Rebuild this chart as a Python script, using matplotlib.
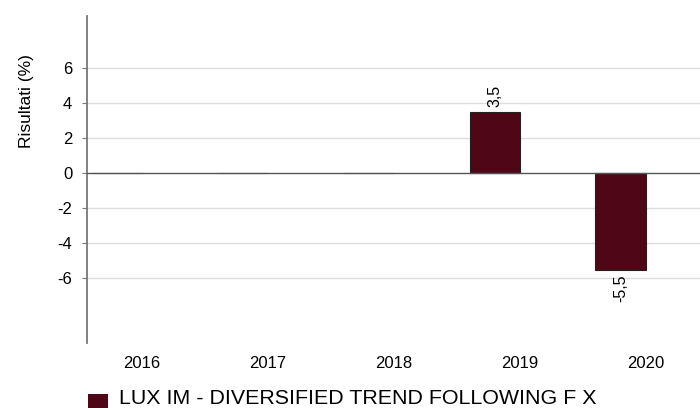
import numpy as np
import matplotlib.pyplot as plt
from matplotlib.patches import Rectangle

plt.rcParams['font.family'] = ['Liberation Sans', 'DejaVu Sans']

# data
years = ['2016', '2017', '2018', '2019', '2020']
results = [np.nan, np.nan, np.nan, 3.5, -5.5]
series_name = 'LUX IM - DIVERSIFIED TREND FOLLOWING F X'
y_ticks = [-6, -4, -2, 0, 2, 4, 6]

bar_color = '#4f0616'

fig = plt.figure(figsize=(7, 4.08), dpi=100)
ax = fig.add_axes([0.1243, 0.1593, 0.8757, 0.8015])

x = np.arange(len(years))
vals = np.array(results, dtype=float)
# grouped layout: fund bar sits left of the category centre (second slot empty)
bw = 0.4
ax.bar(x - bw / 2, np.nan_to_num(vals), width=bw, color=bar_color,
       edgecolor='#222222', linewidth=0.8, zorder=3)

# value labels, italian decimal comma
for xi, v in zip(x - bw / 2, vals):
    if np.isnan(v):
        continue
    txt = ('%.1f' % v).replace('.', ',')
    if v >= 0:
        ax.text(xi, v + 0.3, txt, rotation=90, ha='center', va='bottom', fontsize=11.5)
    else:
        ax.text(xi, v - 0.3, txt, rotation=90, ha='center', va='top', fontsize=11.5)

ax.set_ylim(-9.7, 9)
ax.set_xlim(-0.437, 4.43)
ax.set_yticks(y_ticks)
ax.set_yticklabels([str(t) for t in y_ticks], fontsize=12)
ax.set_xticks(x)
ax.set_xticklabels(years, fontsize=12)
ax.tick_params(axis='x', length=0, pad=9)
ax.tick_params(axis='y', length=3.6, color='#777777', pad=7)

for t in y_ticks:
    if t != 0:
        ax.axhline(t, color='#dcdcdc', linewidth=1, zorder=1)
ax.axhline(0, color='#555555', linewidth=1, zorder=4)

for s in ['top', 'right', 'bottom']:
    ax.spines[s].set_visible(False)
ax.spines['left'].set_color('#777777')
ax.spines['left'].set_linewidth(1.3)

ax.set_ylabel('Risultati (%)', fontsize=12.5)
ax.yaxis.set_label_coords(-0.087, 0.74)

# legend below the chart
fig.patches.append(Rectangle((88 / 700, 0), 20 / 700, 14 / 408, transform=fig.transFigure,
                             facecolor=bar_color, edgecolor='none'))
fig.text(119 / 700, 10 / 408, series_name, fontsize=15.4, ha='left', va='center')

fig.savefig('out.png', dpi=100)
